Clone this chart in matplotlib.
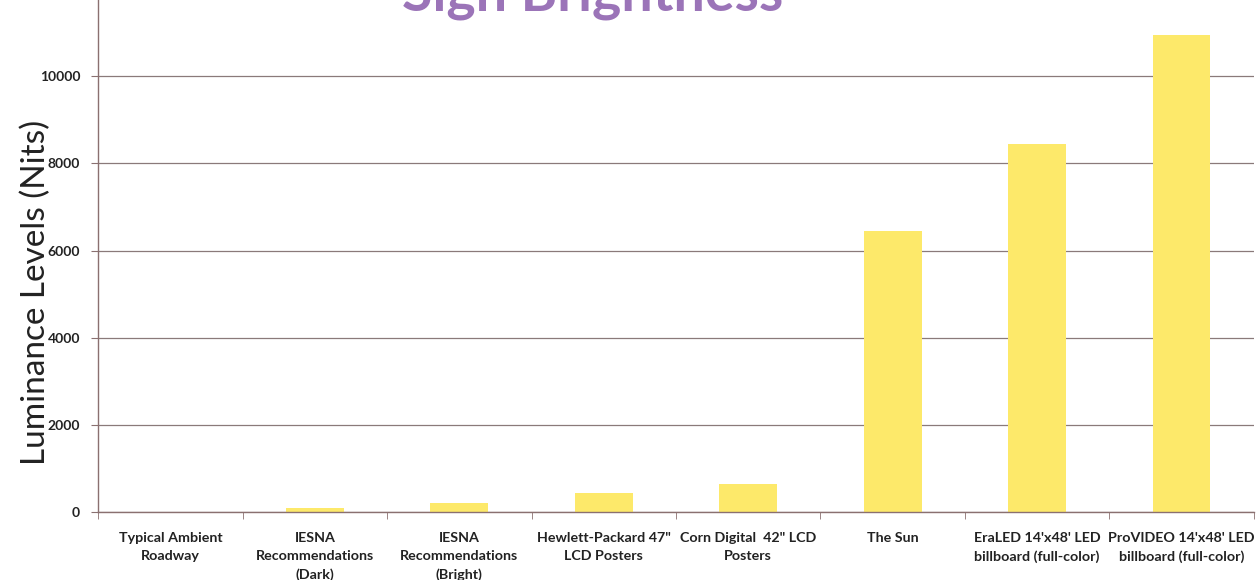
import matplotlib
matplotlib.use('Agg')
import matplotlib.pyplot as plt

# data
categories = ['Typical Ambient\nRoadway',
              'IESNA\nRecommendations\n(Dark)',
              'IESNA\nRecommendations\n(Bright)',
              'Hewlett-Packard 47"\nLCD Posters',
              'Corn Digital  42" LCD\nPosters',
              'The Sun',
              "EraLED 14'x48' LED\nbillboard (full-color)",
              "ProVIDEO 14'x48' LED\nbillboard (full-color)"]
nits = [5, 100, 200, 450, 650, 6450, 8450, 10950]
yticks = [0, 2000, 4000, 6000, 8000, 10000]

plt.rcParams['font.family'] = ['Lato', 'DejaVu Sans']

fig = plt.figure(figsize=(12.6, 5.8), dpi=100)
# axes top sits above the image, like the cropped original
ax = fig.add_axes([0.078, 0.117, 0.917, 0.902])

x = range(len(categories))
ax.bar(x, nits, width=0.4, color='#fde96a', zorder=2)

ax.set_xlim(-0.5, len(categories) - 0.5)
ax.set_ylim(0, 12000)
ax.set_yticks(yticks)
ax.set_yticklabels([str(t) for t in yticks], fontsize=10, fontweight='bold', color='#222222')

ax.set_xticks(x)
ax.set_xticklabels(categories, fontsize=10.3, fontweight='bold', color='#222222', linespacing=1.6)
ax.tick_params(axis='x', length=0, pad=14)
ax.set_xticks([i + 0.5 for i in range(-1, len(categories))], minor=True)
ax.tick_params(axis='x', which='minor', length=5, color='#8a7070', direction='out')
ax.tick_params(axis='y', length=5, color='#8a7070', pad=8)

ax.grid(axis='y', color='#8a7a7a', linewidth=0.9, zorder=0)
for side in ['top', 'right']:
    ax.spines[side].set_visible(False)
for side in ['left', 'bottom']:
    ax.spines[side].set_color('#8a7070')
    ax.spines[side].set_linewidth(1.0)

ax.set_ylabel('Luminance Levels (Nits)', fontsize=24, color='#222222')
ax.yaxis.set_label_coords(-0.041, 0.42)

fig.text(0.47, 1 - 10 / 580, 'Sign Brightness', fontsize=40, fontweight='bold',
         color='#9b74b8', ha='center', va='baseline')

fig.savefig('out.png', dpi=100)
